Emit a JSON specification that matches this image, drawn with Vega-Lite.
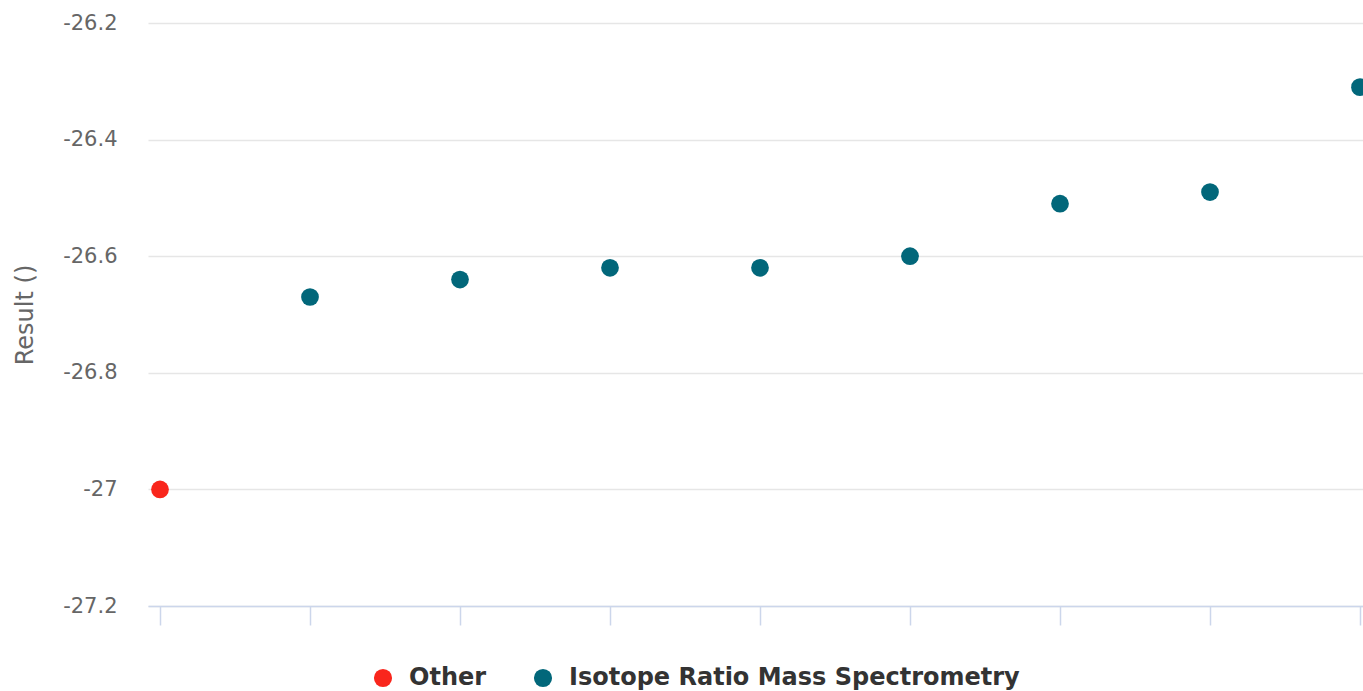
{
  "$schema": "https://vega.github.io/schema/vega-lite/v6.json",
  "width": 1215,
  "height": 583,
  "autosize": {"type": "none"},
  "padding": {"left": 148, "top": 23, "right": 0, "bottom": 85},
  "background": "#ffffff",
  "config": {
    "view": {"stroke": null},
    "font": "DejaVu Sans"
  },
  "data": {
    "values": [
      {"idx": 0, "result": -27.0, "method": "Other"},
      {"idx": 1, "result": -26.67, "method": "Isotope Ratio Mass Spectrometry"},
      {"idx": 2, "result": -26.64, "method": "Isotope Ratio Mass Spectrometry"},
      {"idx": 3, "result": -26.62, "method": "Isotope Ratio Mass Spectrometry"},
      {"idx": 4, "result": -26.62, "method": "Isotope Ratio Mass Spectrometry"},
      {"idx": 5, "result": -26.6, "method": "Isotope Ratio Mass Spectrometry"},
      {"idx": 6, "result": -26.51, "method": "Isotope Ratio Mass Spectrometry"},
      {"idx": 7, "result": -26.49, "method": "Isotope Ratio Mass Spectrometry"},
      {"idx": 8, "result": -26.31, "method": "Isotope Ratio Mass Spectrometry"}
    ]
  },
  "mark": {"type": "circle", "size": 314, "opacity": 1, "clip": false},
  "encoding": {
    "x": {
      "field": "idx",
      "type": "quantitative",
      "scale": {"domain": [-0.08, 8.02], "nice": false, "zero": false},
      "axis": {
        "values": [0, 1, 2, 3, 4, 5, 6, 7, 8],
        "labels": false,
        "title": null,
        "grid": false,
        "domainColor": "#ccd6eb",
        "domainWidth": 1.5,
        "tickColor": "#ccd6eb",
        "tickWidth": 1.5,
        "tickSize": 19
      }
    },
    "y": {
      "field": "result",
      "type": "quantitative",
      "scale": {"domain": [-27.2, -26.2], "nice": false, "zero": false},
      "axis": {
        "values": [-27.2, -27, -26.8, -26.6, -26.4, -26.2],
        "labelExpr": "'' + datum.value",
        "domain": false,
        "ticks": false,
        "grid": true,
        "gridColor": "#e6e6e6",
        "gridWidth": 1.5,
        "labelColor": "#666666",
        "labelFontSize": 21,
        "labelPadding": 31,
        "title": "Result ()",
        "titleColor": "#666666",
        "titleFontSize": 24,
        "titleFontWeight": "normal",
        "titlePadding": 25
      }
    },
    "color": {
      "field": "method",
      "type": "nominal",
      "scale": {
        "domain": ["Other", "Isotope Ratio Mass Spectrometry"],
        "range": ["#f9261c", "#02677a"]
      },
      "legend": {
        "title": null,
        "orient": "none",
        "direction": "horizontal",
        "legendX": 223,
        "legendY": 643,
        "padding": 0,
        "symbolType": "circle",
        "symbolSize": 330,
        "symbolStrokeWidth": 0,
        "symbolOpacity": 1,
        "labelFontSize": 24,
        "labelFontWeight": "bold",
        "labelColor": "#333333",
        "labelOffset": 14,
        "labelLimit": 0,
        "columnPadding": 44
      }
    }
  }
}
